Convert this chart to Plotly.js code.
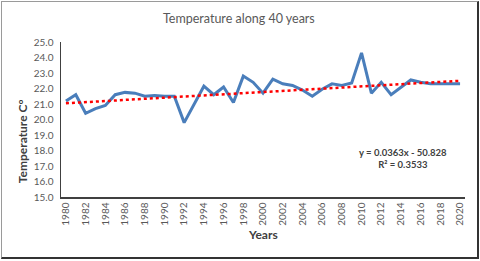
<!DOCTYPE html>
<html><head><meta charset="utf-8">
<script src="https://cdn.plot.ly/plotly-3.0.1.min.js"></script>
<style>
html,body{margin:0;padding:0;background:#fff;}
#wrap{position:relative;width:480px;height:261px;}
#chart{width:480px;height:261px;}
#frame{position:absolute;left:1px;top:1px;width:475px;height:255px;border-left:1px solid #9a9a9a;border-top:1px solid #9a9a9a;border-right:2px solid #333;border-bottom:2px solid #333;pointer-events:none;}
</style></head>
<body>
<div id="wrap"><div id="chart"></div><div id="frame"></div></div>
<script>
const years = [1980,1981,1982,1983,1984,1985,1986,1987,1988,1989,1990,1991,1992,1993,1994,1995,1996,1997,1998,1999,2000,2001,2002,2003,2004,2005,2006,2007,2008,2009,2010,2011,2012,2013,2014,2015,2016,2017,2018,2019,2020];
const temps = [21.2,21.6,20.4,20.7,20.9,21.6,21.75,21.7,21.5,21.55,21.5,21.5,19.8,21.0,22.15,21.6,22.1,21.1,22.8,22.4,21.7,22.6,22.3,22.2,21.9,21.5,21.95,22.3,22.2,22.35,24.3,21.7,22.4,21.6,22.1,22.55,22.4,22.3,22.3,22.3,22.3];
const slope = 0.0363;
const intercept = -50.828;
const trendYears = [1980, 2020];
const trendVals = trendYears.map(x => slope * x + intercept);
const eqText = "y = 0.0363x - 50.828<br>R² = 0.3533";
const titleText = "Temperature along 40 years";
const yTitle = "Temperature C°";
const xTitle = "Years";

const font = "Lato, 'Open Sans', sans-serif";
const data = [
  {x: years, y: temps, type: 'scatter', mode: 'lines', line: {color: '#4a7ebb', width: 3}, hoverinfo: 'none'},
  {x: trendYears, y: trendVals, type: 'scatter', mode: 'lines', line: {color: '#ff0000', width: 2.5, dash: 'dot'}, hoverinfo: 'none'}
];
const layout = {
  width: 480, height: 261,
  margin: {l: 61, r: 15, t: 42, b: 64},
  paper_bgcolor: '#fff', plot_bgcolor: '#fff',
  showlegend: false,
  font: {family: font, color: '#595959', size: 10},
  xaxis: {range: [1979.5, 2020.5], tickvals: years.filter((y,i) => i % 2 === 0), tickangle: -90,
          showgrid: false, zeroline: false, showline: true, linecolor: '#404040', linewidth: 1.5,
          ticks: '', tickfont: {size: 10, color: '#595959'}, fixedrange: true},
  yaxis: {range: [15, 25], dtick: 1, tickformat: '.1f', showgrid: false, zeroline: false,
          showline: true, linecolor: '#404040', linewidth: 1.5, ticks: '', ticklabelstandoff: 4,
          tickfont: {size: 10, color: '#595959'}, fixedrange: true},
  annotations: [
    {text: titleText, xref: 'paper', yref: 'paper', x: 0.44, y: 1, yshift: 24, xanchor: 'center', yanchor: 'middle', showarrow: false, font: {size: 12.5, color: '#595959', family: font}},
    {text: '<b>' + yTitle + '</b>', xref: 'paper', yref: 'paper', x: 0, xshift: -39, y: 0.36, xanchor: 'center', yanchor: 'middle', textangle: -90, showarrow: false, font: {size: 12, color: '#404040', family: font}},
    {text: '<b>' + xTitle + '</b>', xref: 'paper', yref: 'paper', x: 0.5, y: 0, yshift: -37, xanchor: 'center', yanchor: 'middle', showarrow: false, font: {size: 12, color: '#404040', family: font}},
    {text: '<b>' + eqText + '</b>', xref: 'paper', yref: 'paper', x: 0.846, y: 0.25, xanchor: 'center', yanchor: 'middle', align: 'center', showarrow: false, font: {size: 9.5, color: '#404040', family: font}}
  ]
};
Plotly.newPlot('chart', data, layout, {staticPlot: true, displayModeBar: false});
</script>
</body></html>
